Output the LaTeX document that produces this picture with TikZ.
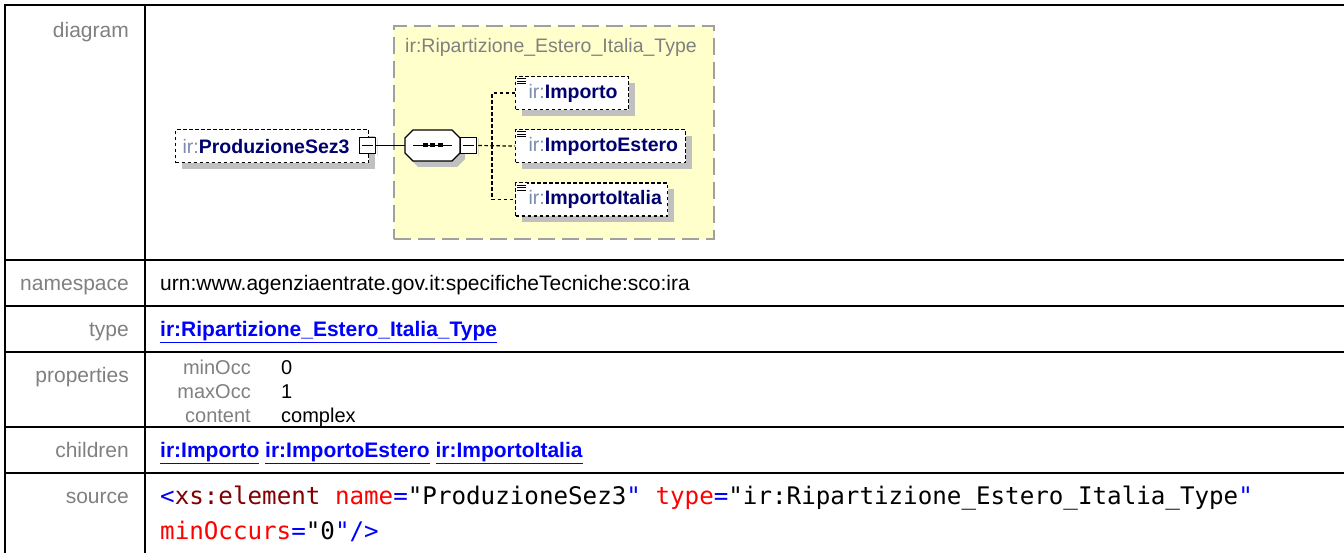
\documentclass[tikz,border=0pt]{standalone}
\usepackage{fontspec}
\setmainfont{Liberation Sans}
\newfontfamily\xmlmono{DejaVu Sans Mono}
\usetikzlibrary{shadows}
\definecolor{labgray}{RGB}{128,128,128}
\definecolor{linkblue}{RGB}{0,0,255}
\definecolor{irgray}{RGB}{122,140,176}
\definecolor{navy}{RGB}{0,0,110}
\definecolor{shadowgray}{RGB}{192,192,192}
\definecolor{typefill}{RGB}{255,255,204}
\definecolor{typeborder}{RGB}{160,160,160}
\definecolor{maroon}{RGB}{128,0,0}
\newcommand\DocIcon[1]{%
  \fill[white] ([xshift=1pt,yshift=-1pt]#1.north west) rectangle ++(11,9);
  \foreach \dy in {2.5,5,7.5} {\draw[line width=0.9pt] ([xshift=2pt,yshift=-\dy pt]#1.north west) -- ++(9,0);}
}
\newcommand\MinusMark[1]{%
  \fill ([xshift=1.5pt,yshift=-1.5pt]#1.north east) rectangle ([xshift=1.5pt,yshift=-1.5pt]#1.south east);
  \draw[line width=1.4pt] ([xshift=3pt]#1.west) -- ([xshift=-3pt]#1.east);
}
\begin{document}
\begin{tikzpicture}[x=1pt,y=-1pt,
  tline/.style={line width=2pt, black},
  lab/.style={anchor=mid east, text=labgray, inner sep=0pt, font=\fontsize{21}{25}\selectfont},
  sublab/.style={anchor=mid east, text=labgray, inner sep=0pt, font=\fontsize{20}{24}\selectfont},
  val/.style={anchor=mid west, text=black, inner sep=0pt, font=\fontsize{21}{25}\selectfont},
  subval/.style={anchor=mid west, text=black, inner sep=0pt, font=\fontsize{20}{24}\selectfont},
  lnk/.style={anchor=mid west, text=linkblue, inner sep=0pt, font=\bfseries\fontsize{21}{25}\selectfont},
  src/.style={anchor=mid west, text=black, inner sep=0pt, font=\xmlmono\fontsize{24.2}{29}\selectfont},
  elem/.style={draw, dash pattern=on 3.5pt off 2.5pt, line width=1.2pt, fill=white,
    minimum height=33pt, inner sep=0pt, anchor=north west, align=left,
    drop shadow={shadow xshift=6pt, shadow yshift=-6pt, fill=shadowgray, opacity=1},
    font=\fontsize{19.5}{23}\selectfont},
  minusbox/.style={draw, line width=1.8pt, fill=white, minimum size=16pt, inner sep=0pt},
  conn/.style={line width=1.2pt, dash pattern=on 3.5pt off 2.5pt},
  solidconn/.style={line width=1.4pt}
]
\useasboundingbox (0,0) rectangle (1344,553);
\fill[white] (0,0) rectangle (1344,553);

% ---------- table ----------
\draw[tline] (4,5) -- (1344,5);
\draw[tline] (5,4) -- (5,553);
\draw[tline] (145,5) -- (145,553);
\foreach \yy in {260,306,352,427,473} {\draw[tline] (5,\yy) -- (1344,\yy);}

\node[lab] (ldia) at (129,35) {diagram};
\node[lab] (lns) at (129,288) {namespace};
\node[lab] (ltype) at (129,334) {type};
\node[lab] (lprop) at (129,380) {properties};
\node[lab] (lchild) at (129,455) {children};
\node[lab] (lsrc) at (129,501) {source};

\node[val] (vns) at (160,288) {urn:www.agenziaentrate.gov.it:specificheTecniche:sco:ira};
\node[lnk] (vtype) at (160,334) {\underline{ir:Ripartizione\_Estero\_Italia\_Type}};

\node[sublab] (pmin) at (251,372) {minOcc};
\node[sublab] (pmax) at (251,396) {maxOcc};
\node[sublab] (pcon) at (251,420) {content};
\node[subval] (vmin) at (281,372) {0};
\node[subval] (vmax) at (281,396) {1};
\node[subval] (vcon) at (281,420) {complex};

\node[lnk] (vchild) at (160,455) {\underline{ir:Importo} \underline{ir:ImportoEstero} \underline{ir:ImportoItalia}};

\node[src] (src1) at (160,502) {\textcolor{linkblue}{<}\textcolor{maroon}{xs:element} \textcolor{red}{name}\textcolor{linkblue}{=}"ProduzioneSez3\textcolor{linkblue}{"} \textcolor{red}{type}\textcolor{linkblue}{=}"ir:Ripartizione\_Estero\_Italia\_Type\textcolor{linkblue}{"}};
\node[src] (src2) at (160,537) {\textcolor{red}{minOccurs}\textcolor{linkblue}{=}"0\textcolor{linkblue}{"/>}};

% ---------- diagram ----------
\node[draw=typeborder, fill=typefill, line width=1.8pt, dash pattern=on 17pt off 7pt,
  minimum width=320pt, minimum height=213pt, anchor=north west, inner sep=0pt] (tbox) at (393,25) {};
\node[anchor=mid west, inner sep=0pt, text=labgray, font=\fontsize{19.5}{23}\selectfont] (ttitle) at (405,50) {ir:Ripartizione\_Estero\_Italia\_Type};

\node[elem, minimum width=193pt, text width=193pt] (prod) at (175,129) {\hspace*{7pt}\textcolor{irgray}{ir:}\textbf{\textcolor{navy}{ProduzioneSez3}}};
\node[minusbox] (c1) at (367.5,145.5) {};
\MinusMark{c1}

% sequence compositor
\node[minimum width=55pt, minimum height=32pt, inner sep=0pt] (seq) at (432.5,145.5) {};
\fill[shadowgray] (418,135) -- (457,135) -- (465,143) -- (465,159) -- (457,167) -- (418,167) -- (410,159) -- (410,143) -- cycle;
\filldraw[fill=white, draw=black, line width=1.4pt] (413,130) -- (452,130) -- (460,138) -- (460,153) -- (452,161) -- (413,161) -- (405,153) -- (405,138) -- cycle;
\draw[line width=1.4pt] (413,145.5) -- (452,145.5);
\foreach \xx in {425,432.5,440} {\fill (\xx-2.5,143.5) rectangle (\xx+2.5,147.5);}
\node[minusbox] (c2) at (468.5,145.5) {};
\MinusMark{c2}

\draw[solidconn] (c1.east) -- (seq.west);

% children
\node[elem, minimum width=113pt, text width=113pt] (imp) at (515,76) {\hspace*{13pt}\textcolor{irgray}{ir:}\textbf{\textcolor{navy}{Importo}}};
\node[elem, minimum width=170pt, text width=170pt] (est) at (515,129) {\hspace*{13pt}\textcolor{irgray}{ir:}\textbf{\textcolor{navy}{ImportoEstero}}};
\node[elem, minimum width=152pt, text width=152pt] (ita) at (515,182.5) {\hspace*{13pt}\textcolor{irgray}{ir:}\textbf{\textcolor{navy}{ImportoItalia}}};
\DocIcon{imp}
\DocIcon{est}
\DocIcon{ita}

\coordinate (j) at (492,145.5);
\draw[conn] ([xshift=1pt]c2.east) -- (est.west);
\draw[conn] (imp.west) -| (j);
\draw[conn] (j) |- (ita.west);
\end{tikzpicture}
\end{document}
